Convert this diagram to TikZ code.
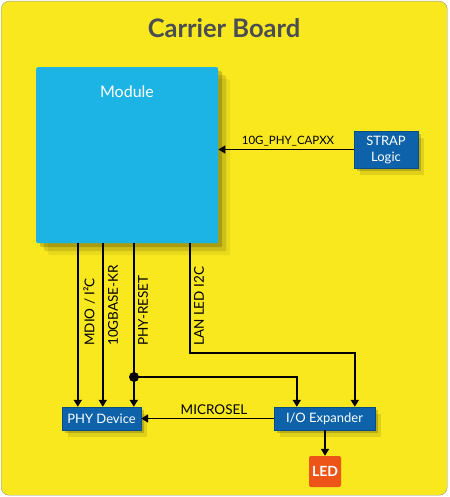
\documentclass[tikz,border=0pt]{standalone}
\usepackage{fontspec}
\setmainfont{Lato}
\usetikzlibrary{positioning, shadows, arrows.meta}
\definecolor{boardyellow}{HTML}{F9E81E}
\definecolor{modcyan}{HTML}{1CB3E5}
\definecolor{chipblue}{HTML}{0D62A9}
\definecolor{ledred}{HTML}{EC5418}
\definecolor{titlegrey}{HTML}{4A4D52}

\begin{document}
\begin{tikzpicture}
        [
        x=1pt, y=-1pt,
        every node/.style = {font=\fontsize{13.5}{15}\selectfont},
        softshadow/.style = {drop shadow={shadow xshift=3pt, shadow yshift=-3pt, opacity=.18, fill=black},
                             drop shadow={shadow xshift=6pt, shadow yshift=-7pt, opacity=.10, fill=black}},
        bigshadow/.style = {drop shadow={shadow xshift=4pt, shadow yshift=-4pt, opacity=.18, fill=black},
                            drop shadow={shadow xshift=8pt, shadow yshift=-8pt, opacity=.12, fill=black},
                            drop shadow={shadow xshift=12pt, shadow yshift=-12pt, opacity=.06, fill=black}},
        chip/.style = {fill=chipblue, text=white, draw=chipblue!80!black, line width=.4pt, softshadow, inner sep=0pt,
                       font=\fontsize{13}{15}\selectfont},
        sig/.style = {line width=1.6pt, -{Triangle[length=7pt, width=8pt]}},
        vlabel/.style = {rotate=90, anchor=north west, inner sep=0pt}
        ]
    \useasboundingbox (0,0) rectangle (449,497);
    \node[draw=gray!80, fill=boardyellow, rounded corners=8pt, minimum width=446pt, minimum height=494pt, anchor=north west] (board) at (1,1) {};
    \node[text=titlegrey, font=\fontsize{25.5}{30}\bfseries] (title) at (224,28) {Carrier Board};

    % module and chips
    \node[fill=modcyan, rounded corners=2pt, minimum width=182pt, minimum height=176pt, anchor=north west, bigshadow] (module) at (36,67) {};
    \node[text=white, font=\fontsize{16}{18}\selectfont] (modname) at (127,92) {Module};
    \node[chip, minimum width=64pt, minimum height=37pt, align=center, font=\fontsize{13}{16}\selectfont] (strap) at (386,149.5) {STRAP\\Logic};
    \node[chip, minimum width=79pt, minimum height=23pt] (phy) at (101.5,418.5) {PHY Device};
    \node[chip, minimum width=101pt, minimum height=23pt] (io) at (324.5,418.5) {I/O Expander};
    \node[fill=ledred, text=white, rounded corners=2pt, minimum width=32pt, minimum height=31pt, inner sep=0pt, font=\fontsize{14}{16}\bfseries] (led) at (325,471.5) {LED};

    \coordinate (p1) at ([xshift=16pt]phy.north west);
    \coordinate (p2) at ([xshift=41pt]phy.north west);
    \coordinate (p3) at ([xshift=72pt]phy.north west);
    \coordinate (i1) at ([xshift=23pt]io.north west);
    \coordinate (i2) at ([xshift=81pt]io.north west);
    \coordinate (junc) at (134,377);
    \coordinate (bend) at (190,353);

    % signals
    \draw[sig] (strap.west) -- (strap.west -| module.east);
    \draw[sig] (module.south -| p1) -- (p1);
    \draw[sig] (module.south -| p2) -- (p2);
    \draw[sig] (module.south -| p3) -- (p3);
    \fill (junc) circle (5pt);
    \draw[sig] (junc) -| (i1);
    \draw[sig] (module.south -| bend) -- (bend) -| (i2);
    \draw[sig] (io.west) -- (phy.east);
    \draw[sig] (io.south -| led) -- (led.north);

    \node[font=\fontsize{11.5}{13}\selectfont] (lcap) at (288,141) {10G\_PHY\_CAPXX};
    \node (lmicro) at (214,410) {MICROSEL};
    \node[vlabel] (lmdio) at (83,346) {MDIO / I²C};
    \node[vlabel] (l10g) at (108,346) {10GBASE-KR};
    \node[vlabel] (lrst) at (138,346) {PHY-RESET};
    \node[vlabel] (lled) at (194,346) {LAN LED I2C};
\end{tikzpicture}
\end{document}
